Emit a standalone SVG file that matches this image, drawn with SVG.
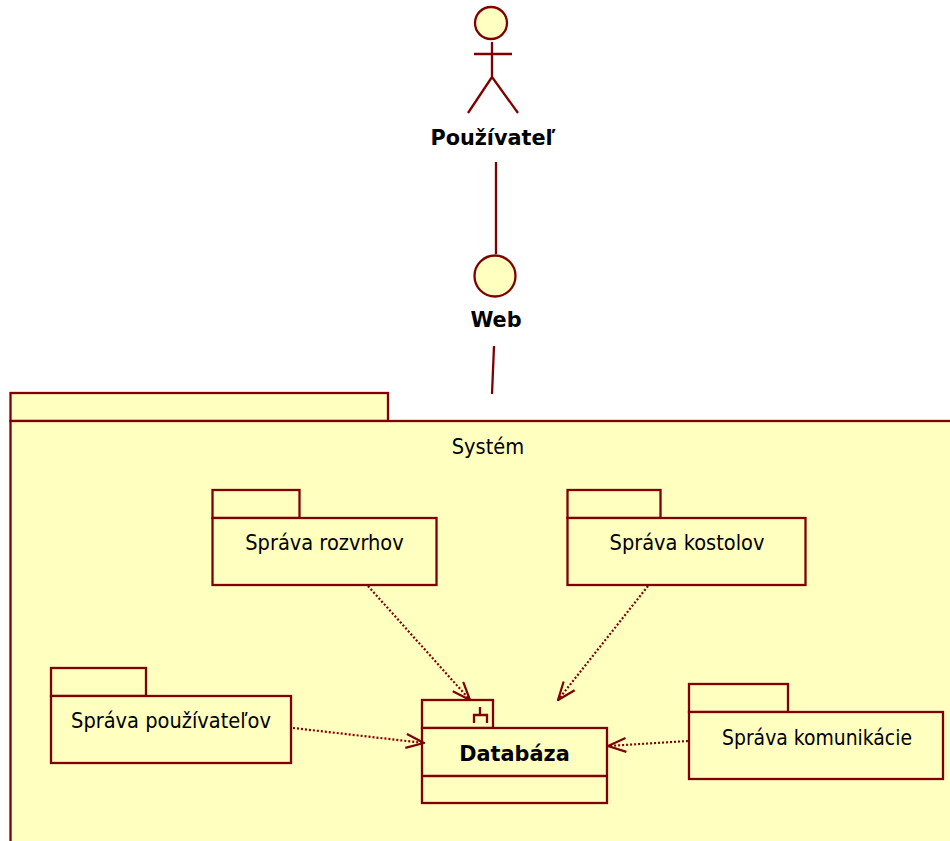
<svg xmlns="http://www.w3.org/2000/svg" width="950" height="841" viewBox="0 0 950 841">
<defs><marker id="a" markerWidth="20" markerHeight="20" refX="19" refY="8" orient="auto" markerUnits="userSpaceOnUse"><path d="M1 1L19 8L1 15" fill="none" stroke="#800000" stroke-width="2.2"/></marker></defs>
<style>
.s{fill:#ffffc0;stroke:#800000;stroke-width:2.3}
.l{fill:none;stroke:#800000;stroke-width:2.3}
.d{fill:none;stroke:#800000;stroke-width:2.2;stroke-dasharray:2 2;marker-end:url(#a)}
text{font-family:"DejaVu Sans Condensed","DejaVu Sans",sans-serif;font-stretch:condensed;fill:#000;text-anchor:middle;font-size:21.6px}
.b{font-family:"DejaVu Sans",sans-serif;font-stretch:normal;font-weight:bold;font-size:20.8px}
</style>
<rect width="950" height="841" fill="#fff"/>
<g id="actor"><circle class="s" cx="491" cy="23" r="16"/><path class="l" d="M492 42V77M474 54H512M492 77L468 113M492 77L518 113"/><text class="b" x="493" y="145">Používateľ</text></g>
<g id="web"><circle class="s" cx="495" cy="276" r="20.5"/><text class="b" x="496" y="327">Web</text></g>
<g id="system"><rect class="s" x="10.5" y="393" width="377.5" height="28"/><rect class="s" x="10.5" y="421" width="1000" height="500"/><text x="488" y="454">Systém</text></g>
<g id="rozvrhy"><rect class="s" x="212.5" y="490" width="87" height="28"/><rect class="s" x="212.5" y="518" width="224" height="67"/><text x="324.5" y="550">Správa rozvrhov</text></g>
<g id="kostoly"><rect class="s" x="567.5" y="490" width="93" height="28"/><rect class="s" x="567.5" y="518" width="238" height="67"/><text x="687" y="550">Správa kostolov</text></g>
<g id="pouzivatelia"><rect class="s" x="51" y="668" width="95" height="28"/><rect class="s" x="51" y="696" width="240" height="67"/><text x="171" y="728">Správa používateľov</text></g>
<g id="komunikacia"><rect class="s" x="689" y="684" width="99" height="28"/><rect class="s" x="689" y="712" width="254" height="67"/><text x="817" y="745" textLength="190" lengthAdjust="spacingAndGlyphs">Správa komunikácie</text></g>
<g id="databaza"><rect class="s" x="422" y="700" width="71" height="28"/><rect class="s" x="422" y="728" width="185" height="75"/><path class="l" d="M422 776H608M480 707V715M474 723V715H487V723"/><text class="b" x="514.5" y="761">Databáza</text></g>
<g id="connectors"><path class="l" d="M496 162V254M494 346L492 394"/><path class="d" d="M368 586L470 700"/><path class="d" d="M648 586L558 700"/><path class="d" d="M293 728L424 743"/><path class="d" d="M688 741L608 746"/></g>
</svg>
